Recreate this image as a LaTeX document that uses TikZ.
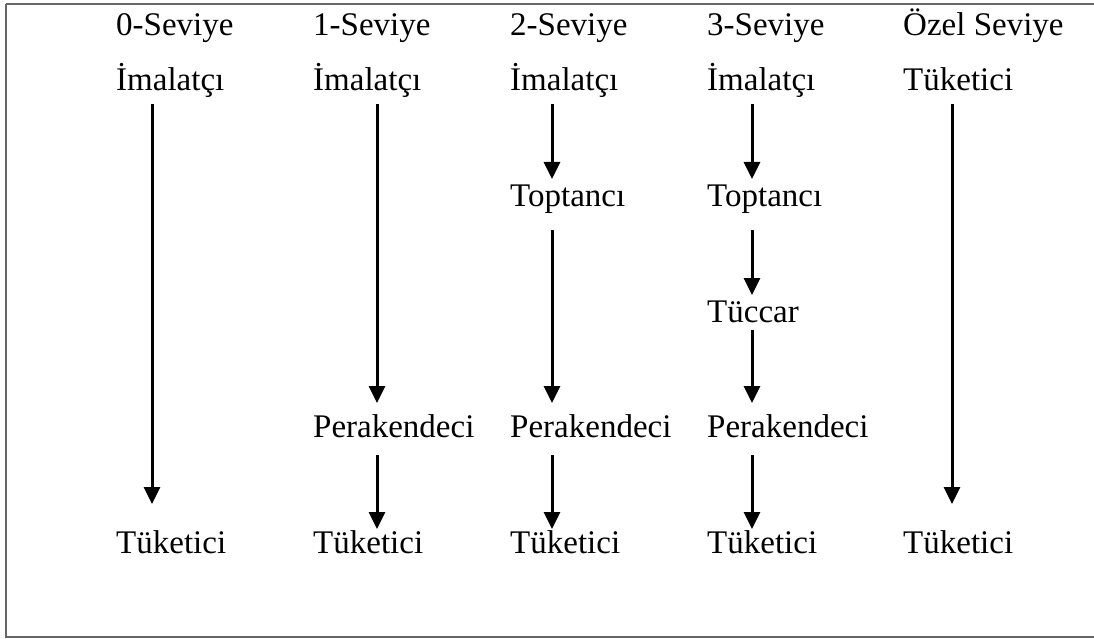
\documentclass[tikz,border=0pt]{standalone}
\usepackage{fontspec}
\setmainfont{Liberation Serif}
\usetikzlibrary{arrows.meta}
\begin{document}
\begin{tikzpicture}[x=1pt,y=-1pt,
  lbl/.style={anchor=base west,inner sep=0pt,font=\fontsize{33}{36}\selectfont},
  flow/.style={line width=3pt,-{Triangle[width=16pt,length=17pt]}}]
\useasboundingbox (0,0) rectangle (1094,639);
\draw[line width=1.5pt,black!60] (6,4) -- (1100,4) (6,4) -- (6,637) -- (1100,637);
% headers
\node[lbl] (h0) at (116,36) {0-Seviye};
\node[lbl] (h1) at (313,36) {1-Seviye};
\node[lbl] (h2) at (510,36) {2-Seviye};
\node[lbl] (h3) at (707,36) {3-Seviye};
\node[lbl] (h4) at (903,36) {Özel Seviye};
% row 1
\node[lbl] (i0) at (116,91) {İmalatçı};
\node[lbl] (i1) at (313,91) {İmalatçı};
\node[lbl] (i2) at (510,91) {İmalatçı};
\node[lbl] (i3) at (707,91) {İmalatçı};
\node[lbl] (t4a) at (903,91) {Tüketici};
% middle
\node[lbl] (top2) at (510,207) {Toptancı};
\node[lbl] (top3) at (707,207) {Toptancı};
\node[lbl] (tuc3) at (707,322) {Tüccar};
\node[lbl] (p1) at (313,437) {Perakendeci};
\node[lbl] (p2) at (510,437) {Perakendeci};
\node[lbl] (p3) at (707,437) {Perakendeci};
% bottom
\node[lbl] (t0) at (116,553) {Tüketici};
\node[lbl] (t1) at (313,553) {Tüketici};
\node[lbl] (t2) at (510,553) {Tüketici};
\node[lbl] (t3) at (707,553) {Tüketici};
\node[lbl] (t4) at (903,553) {Tüketici};
% arrow end points
\coordinate (a0s) at (152,104); \coordinate (a0e) at (152,504);
\coordinate (a1s) at (377,104); \coordinate (a1e) at (377,403);
\coordinate (b1s) at (377,455); \coordinate (b1e) at (377,529);
\coordinate (a2s) at (552,104); \coordinate (a2e) at (552,179);
\coordinate (b2s) at (552,230); \coordinate (b2e) at (552,403);
\coordinate (c2s) at (552,455); \coordinate (c2e) at (552,529);
\coordinate (a3s) at (752,104); \coordinate (a3e) at (752,179);
\coordinate (b3s) at (752,230); \coordinate (b3e) at (752,295);
\coordinate (c3s) at (752,330); \coordinate (c3e) at (752,403);
\coordinate (d3s) at (752,455); \coordinate (d3e) at (752,529);
\coordinate (a4s) at (952,104); \coordinate (a4e) at (952,504);
\draw[flow] (a0s) -- (a0e);
\draw[flow] (a1s) -- (a1e);
\draw[flow] (b1s) -- (b1e);
\draw[flow] (a2s) -- (a2e);
\draw[flow] (b2s) -- (b2e);
\draw[flow] (c2s) -- (c2e);
\draw[flow] (a3s) -- (a3e);
\draw[flow] (b3s) -- (b3e);
\draw[flow] (c3s) -- (c3e);
\draw[flow] (d3s) -- (d3e);
\draw[flow] (a4s) -- (a4e);
\end{tikzpicture}
\end{document}
